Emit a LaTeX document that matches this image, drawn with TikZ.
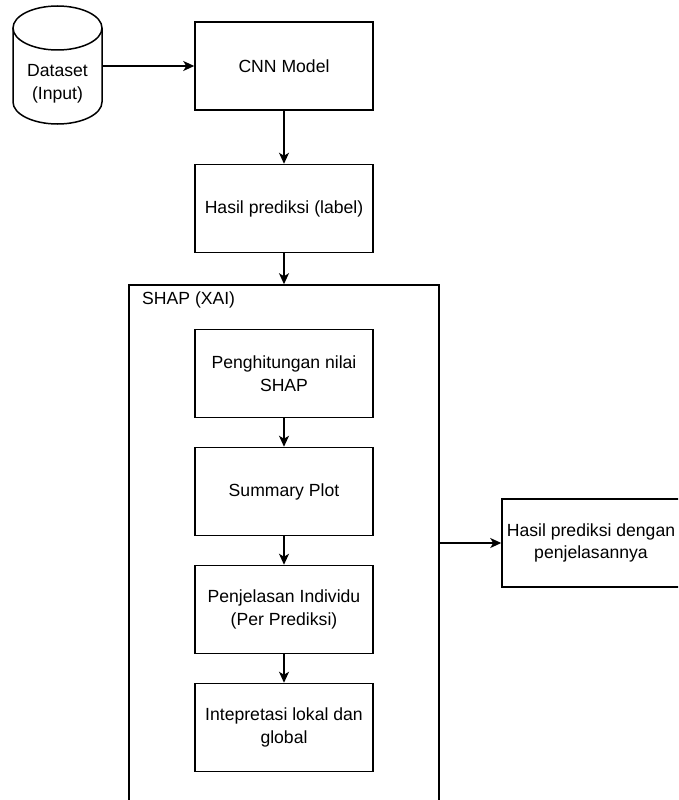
\documentclass[tikz,border=0pt]{standalone}
\usepackage{fontspec}
\setmainfont{Liberation Sans}
\usetikzlibrary{arrows.meta}

\begin{document}
\begin{tikzpicture}[
  x=1pt, y=-1pt,
  every node/.style={font=\fontsize{17.6}{22.5}\selectfont, text=black},
  stepbox/.style={draw=black, line width=1.5pt, fill=white, rectangle,
    minimum width=178pt, minimum height=88pt, inner sep=0pt, align=center},
  groupbox/.style={draw=black, line width=1.5pt, rectangle, inner sep=0pt,
    minimum width=310pt, minimum height=535pt},
  ghost/.style={rectangle, inner sep=0pt, minimum width=89pt, minimum height=118pt},
  flow/.style={draw=black, line width=1.5pt,
    -{Stealth[length=11pt, width=10pt, inset=3pt]}},
  outline/.style={draw=black, line width=1.5pt, fill=white}
]
\useasboundingbox (0,0) rectangle (678,800);
\fill[white] (0,0) rectangle (678,800);
\clip (0,0) rectangle (678,800);

% data store drawn as a cylinder
\node[ghost] (data) at (57.5,65) {};
\path[outline] (13,28) -- (13,102)
  arc[start angle=180, end angle=0, x radius=44.5, y radius=22] -- (102,28);
\path[outline] (57.5,28) ellipse[x radius=44.5, y radius=22];
\node[align=center, inner sep=0pt] (datatxt) at (57.5,84) {Dataset\\(Input)};

% main pipeline
\node[stepbox] (cnn) at (284,66) {CNN Model};
\node[stepbox] (pred) at (284,208.5) {Hasil prediksi (label)};

% explanation group
\node[groupbox] (shap) at (284,552.5) {};
\node[anchor=west, inner sep=0pt] (shaplbl) at (142,300) {SHAP (XAI)};

\node[stepbox] (calc) at (284,373.5) {Penghitungan nilai\\SHAP};
\node[stepbox] (summ) at (284,491.5) {Summary Plot};
\node[stepbox] (indiv) at (284,609.5) {Penjelasan Individu\\(Per Prediksi)};
\node[stepbox] (interp) at (284,727.5) {Intepretasi lokal dan\\global};

% final output
\node[stepbox] (out) at (591,543) {Hasil prediksi dengan\\penjelasannya};

% connectors
\draw[flow] (data.east |- cnn.west) -- (cnn.west);
\draw[flow] (cnn.south) -- (pred.north);
\draw[flow] (pred.south) -- (shap.north);
\draw[flow] (calc.south) -- (summ.north);
\draw[flow] (summ.south) -- (indiv.north);
\draw[flow] (indiv.south) -- (interp.north);
\draw[flow] (shap.east |- out.west) -- (out.west);
\end{tikzpicture}
\end{document}
